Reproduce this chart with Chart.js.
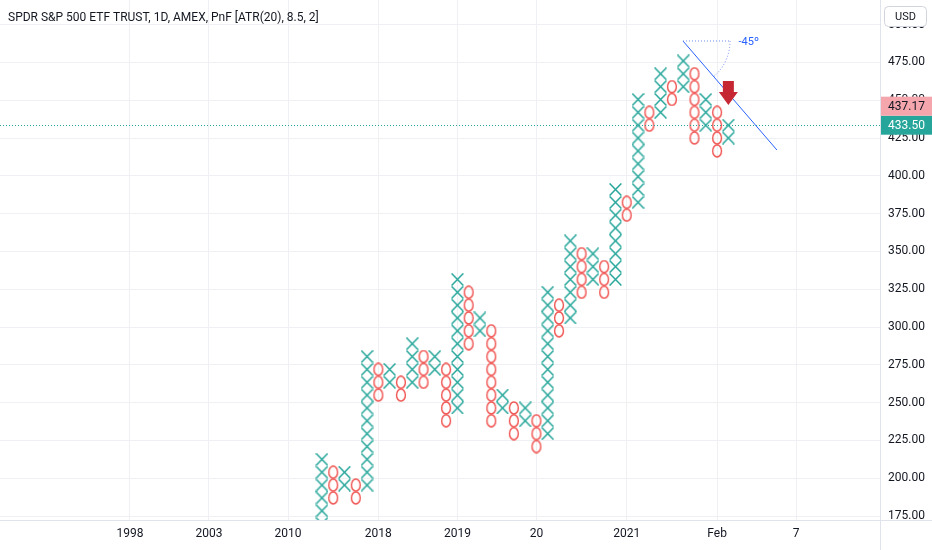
<!DOCTYPE html>
<html>
<head>
<meta charset="utf-8">
<script src="https://cdn.jsdelivr.net/npm/chart.js@4.4.1/dist/chart.umd.min.js"></script>
<style>
html,body{margin:0;padding:0;background:#fff;overflow:hidden}
canvas{display:block}
</style>
</head>
<body>
<canvas id="c" width="932" height="550"></canvas>
<script>
// ---------- data ----------
const BOX_SIZE = 8.5;
const titleText = 'SPDR S&P 500 ETF TRUST, 1D, AMEX, PnF [ATR(20), 8.5, 2]';
const columnTypes = ['X','O','X','O','X','O','X','O','X','O','X','O','X','O','X','O','X','O','X',
                     'O','X','O','X','O','X','O','X','O','X','O','X','O','X','O','X','O','X'];
const columnLows  = [153,187,195.5,187,195.5,255,263.5,255,263.5,263.5,272,238,246.5,289,297.5,238,246.5,229.5,238,
                     221,229.5,297.5,306,323,331.5,323,331.5,374,382.5,433.5,442,450.5,459,425,433.5,416.5,425];
const columnHighs = [212.5,204,204,195.5,280.5,272,272,263.5,289,280.5,280.5,272,331.5,323,306,297.5,255,246.5,246.5,
                     238,323,314.5,357,348.5,348.5,340,391,382.5,450.5,442,467.5,459,476,467.5,450.5,442,433.5];
const xTickColumns = [-17,-10,-3,5,12,19,27,35,42];
const xTickLabels  = ['1998','2003','2010','2018','2019','20','2021','Feb','7'];
const priceTicks   = [175,200,225,250,275,300,325,350,375,400,425,450,475,500];
const lastPrice  = 433.5;
const closePrice = 437.17;
const trendLine  = [{x:31.98, y:489.2},{x:40.3, y:417.1}];
const angleRef   = {x:36.15, y:489.2};
const angleLabel = '-45º';
const angleLabelPos = {x:37.8, y:488.6};
const arrowMark  = {x:36.0, tip:446.9, tail:462.8};

// ---------- marks ----------
function boxPoints(type){
  const pts = [];
  columnTypes.forEach((t,i)=>{
    if(t!==type) return;
    const k0 = Math.round(columnLows[i]/BOX_SIZE), k1 = Math.round(columnHighs[i]/BOX_SIZE);
    for(let k=k0;k<=k1;k++) pts.push({x:i, y:+(k*BOX_SIZE).toFixed(2)});
  });
  return pts;
}
function makeX(){
  const c=document.createElement('canvas'); c.width=13; c.height=13;
  const g=c.getContext('2d'); g.strokeStyle='#26a69a'; g.lineWidth=1.4;
  g.beginPath(); g.moveTo(0.6,0.4); g.lineTo(12.4,12.6); g.moveTo(12.4,0.4); g.lineTo(0.6,12.6); g.stroke();
  return c;
}
function makeO(){
  const c=document.createElement('canvas'); c.width=12; c.height=14;
  const g=c.getContext('2d'); g.strokeStyle='#ef5350'; g.lineWidth=1.4;
  g.beginPath(); g.ellipse(6,7,4.4,6.0,0,0,Math.PI*2); g.stroke();
  return c;
}

const FONT = 'Roboto, "Noto Sans", sans-serif';

const overlay = {
  id:'overlay',
  afterDatasetsDraw(chart){
    const {ctx, chartArea:a, scales:{x,y}} = chart;
    ctx.save();
    ctx.beginPath(); ctx.rect(a.left,a.top,a.right-a.left,a.bottom-a.top); ctx.clip();
    // last price dotted line
    const ly = Math.round(y.getPixelForValue(lastPrice));
    ctx.fillStyle='#26a69a';
    for(let px=a.left; px<a.right; px+=3) ctx.fillRect(px, ly, 1, 1);
    // trend line
    const x0=x.getPixelForValue(trendLine[0].x), y0=y.getPixelForValue(trendLine[0].y);
    const x1=x.getPixelForValue(trendLine[1].x), y1=y.getPixelForValue(trendLine[1].y);
    ctx.setLineDash([]); ctx.strokeStyle='#2962ff'; ctx.lineWidth=1;
    ctx.beginPath(); ctx.moveTo(x0,y0); ctx.lineTo(x1,y1); ctx.stroke();
    // angle reference
    const xr = x.getPixelForValue(angleRef.x);
    ctx.strokeStyle='#6f8cf0'; ctx.setLineDash([1,2]);
    ctx.beginPath(); ctx.moveTo(x0,y0); ctx.lineTo(xr,y0); ctx.stroke();
    const r = xr-x0, ang = Math.atan2(y1-y0,x1-x0);
    ctx.beginPath(); ctx.arc(x0,y0,r,0,ang); ctx.stroke();
    ctx.setLineDash([]);
    ctx.fillStyle='#2962ff'; ctx.font='11px '+FONT; ctx.textAlign='center'; ctx.textBaseline='middle';
    ctx.fillText(angleLabel, x.getPixelForValue(angleLabelPos.x), y.getPixelForValue(angleLabelPos.y));
    // arrow
    const ax=x.getPixelForValue(arrowMark.x), at=y.getPixelForValue(arrowMark.tip), atl=y.getPixelForValue(arrowMark.tail);
    const hh=(at-atl)*0.54;
    ctx.fillStyle='#c62833';
    ctx.beginPath();
    ctx.moveTo(ax-5.5,atl); ctx.lineTo(ax+5.5,atl); ctx.lineTo(ax+5.5,at-hh); ctx.lineTo(ax+9.5,at-hh);
    ctx.lineTo(ax,at); ctx.lineTo(ax-9.5,at-hh); ctx.lineTo(ax-5.5,at-hh); ctx.closePath(); ctx.fill();
    ctx.restore();
  },
  afterDraw(chart){
    const {ctx, chartArea:a, scales:{y}} = chart;
    const W = chart.width, H = chart.height;
    ctx.save();
    // cover bottom-right corner
    ctx.fillStyle='#fff'; ctx.fillRect(a.right+1, a.bottom+1, W-a.right, H-a.bottom);
    ctx.strokeStyle='#e0e3eb'; ctx.lineWidth=1;
    ctx.beginPath(); ctx.moveTo(a.right+0.5,0); ctx.lineTo(a.right+0.5,H); ctx.stroke();
    ctx.beginPath(); ctx.moveTo(0,a.bottom+0.5); ctx.lineTo(W,a.bottom+0.5); ctx.stroke();
    // price labels
    const gy = y.getPixelForValue(lastPrice), h=19;
    ctx.fillStyle='#26a69a'; ctx.fillRect(a.right+1, gy-h/2, W-a.right, h);
    ctx.fillStyle='#f5a6ad'; ctx.fillRect(a.right+1, gy-h/2-h, W-a.right, h);
    ctx.font='12px '+FONT; ctx.textAlign='left'; ctx.textBaseline='middle';
    ctx.fillStyle='#ffffff'; ctx.fillText(lastPrice.toFixed(2), a.right+8, gy+0.5);
    ctx.fillStyle='#131722'; ctx.fillText(closePrice.toFixed(2), a.right+8, gy-h+0.5);
    // USD button
    ctx.fillStyle='#fff'; ctx.strokeStyle='#d1d4dc';
    ctx.beginPath(); ctx.roundRect(884.5,6.5,42,20,4); ctx.fill(); ctx.stroke();
    ctx.font='11px '+FONT;
    ctx.fillStyle='#131722'; ctx.textAlign='center'; ctx.fillText('USD', 905.5, 17);
    // title
    ctx.font='12px '+FONT; ctx.textAlign='left'; ctx.textBaseline='alphabetic';
    ctx.fillText(titleText, 8, 21, 314);
    ctx.restore();
  }
};

const chart = new Chart(document.getElementById('c'), {
  type:'scatter',
  data:{datasets:[
    {label:'X', data:boxPoints('X'), pointStyle:makeX(), pointRadius:6, pointHoverRadius:6, clip:0},
    {label:'O', data:boxPoints('O'), pointStyle:makeO(), pointRadius:6, pointHoverRadius:6, clip:0}
  ]},
  options:{
    responsive:false, animation:false, events:[],
    layout:{padding:0, autoPadding:false},
    plugins:{legend:{display:false}, tooltip:{enabled:false}, title:{display:false}},
    scales:{
      x:{type:'linear', position:'bottom', min:-28.51, max:49.43,
         afterBuildTicks:s=>{s.ticks=xTickColumns.map(v=>({value:v}));},
         afterFit:s=>{s.height=30; s.paddingLeft=s.paddingRight=s.paddingTop=s.paddingBottom=0;},
         grid:{color:'#eef0f4', drawTicks:false},
         border:{display:true, color:'#e0e3eb'},
         ticks:{autoSkip:false, maxRotation:0, padding:7, color:'#131722', font:{family:FONT, size:12},
                callback:v=>xTickLabels[xTickColumns.indexOf(v)]}},
      y:{type:'linear', position:'right', min:172.4, max:516.3,
         afterBuildTicks:s=>{s.ticks=priceTicks.map(v=>({value:v}));},
         afterFit:s=>{s.width=52; s.paddingLeft=s.paddingRight=s.paddingTop=s.paddingBottom=0;},
         grid:{color:'#eef0f4', drawTicks:false},
         border:{display:true, color:'#e0e3eb'},
         ticks:{padding:8, color:'#131722', font:{family:FONT, size:12}, callback:v=>v.toFixed(2)}}
    }
  },
  plugins:[overlay]
});
</script>
</body>
</html>
